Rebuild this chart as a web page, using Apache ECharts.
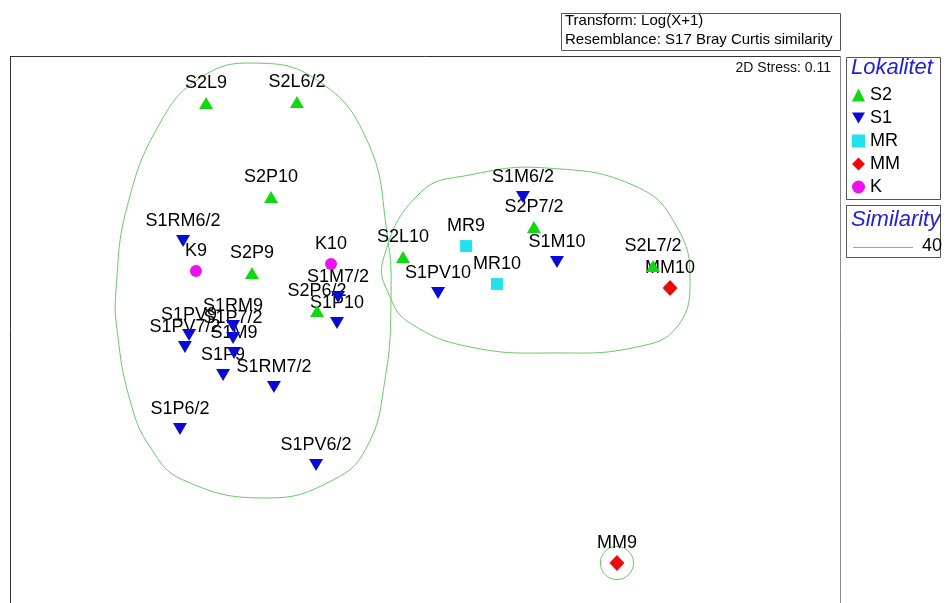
<!DOCTYPE html>
<html><head><meta charset="utf-8">
<script src="https://cdn.jsdelivr.net/npm/echarts@6/dist/echarts.min.js"></script>
<style>html,body{margin:0;padding:0;background:#fff}#c{width:946px;height:603px}</style>
</head><body><div id="c"></div>
<script>
// ---- data (NMDS coordinates) ----
const groups = ['S2', 'S1', 'MR', 'MM', 'K'];

const s2Names = ['S2L9', 'S2L6/2', 'S2P10', 'S2P9', 'S2P6/2', 'S2L10', 'S2P7/2', 'S2L7/2'];
const s2X = [-1.055, -0.617, -0.742, -0.834, -0.520, -0.106, 0.525, 1.099];
const s2Y = [1.073, 1.078, 0.620, 0.254, 0.071, 0.331, 0.476, 0.288];

const s1Names = ['S1RM6/2', 'S1M6/2', 'S1M10', 'S1PV10', 'S1M7/2', 'S1P10', 'S1PV9', 'S1PV7/2',
  'S1RM9', 'S1P7/2', 'S1M9', 'S1P9', 'S1RM7/2', 'S1P6/2', 'S1PV6/2'];
const s1X = [-1.166, 0.472, 0.636, 0.063, -0.419, -0.424, -1.137, -1.157,
  -0.925, -0.925, -0.920, -0.973, -0.728, -1.181, -0.525];
const s1Y = [0.408, 0.620, 0.307, 0.158, 0.139, 0.013, -0.045, -0.102,
  -0.001, -0.059, -0.131, -0.237, -0.295, -0.498, -0.671];

const mrNames = ['MR9', 'MR10'];
const mrX = [0.198, 0.347];
const mrY = [0.384, 0.201];

const mmNames = ['MM10', 'MM9'];
const mmX = [1.181, 0.925];
const mmY = [0.182, -1.143];

const kNames = ['K9', 'K10'];
const kX = [-1.104, -0.453];
const kY = [0.264, 0.298];

// similarity 40 contours (traced outline points)
const contourLeft = [[-0.829, 1.266], [-0.520, 1.184], [-0.280, 0.895], [-0.183, 0.447], [-0.164, 0.124],
  [-0.193, -0.261], [-0.280, -0.584], [-0.443, -0.743], [-0.761, -0.830], [-1.166, -0.743],
  [-1.325, -0.584], [-1.422, -0.358], [-1.484, -0.020], [-1.489, 0.172], [-1.436, 0.572],
  [-1.277, 0.977], [-1.084, 1.194]];
const contourRight = [[0.588, 0.760], [1.022, 0.669], [1.214, 0.476], [1.277, 0.220], [1.214, -0.006],
  [1.022, -0.102], [0.636, -0.131], [0.217, -0.102], [-0.072, 0.013], [-0.169, 0.139],
  [-0.202, 0.317], [-0.024, 0.640], [0.217, 0.727]];
const contourMM9Center = [0.925, -1.143];
const contourMM9Radius = 0.08;
const similarityLevel = '40';
const stressText = '2D Stress: 0.11';
const headerLines = ['Transform: Log(X+1)', 'Resemblance: S17 Bray Curtis similarity'];
const legendTitle = 'Lokalitet';
const similarityTitle = 'Similarity';

// ---- chart ----
const FONT = '"Liberation Sans", Arial, sans-serif';
const downTri = 'path://M0,0L14,0L7,12Z';
const colors = {S2: '#12d812', S1: '#0a0ad8', MR: '#22e2ec', MM: '#ee0a0a', K: '#ee10ee'};
const symbols = {S2: 'triangle', S1: downTri, MR: 'rect', MM: 'diamond', K: 'circle'};
const sizes = {S2: [14, 12], S1: [14, 12], MR: 12, MM: [15, 16], K: 12};
const sets = {
  S2: [s2Names, s2X, s2Y], S1: [s1Names, s1X, s1Y], MR: [mrNames, mrX, mrY],
  MM: [mmNames, mmX, mmY], K: [kNames, kX, kY]
};

function pts(g) {
  const [n, x, y] = sets[g];
  return n.map((nm, i) => ({name: nm, value: [x[i], y[i]]}));
}

function contour(points) {
  return {
    type: 'custom', coordinateSystem: 'cartesian2d', silent: true, z: 1, clip: false,
    data: [points[0]],
    renderItem: (params, api) => ({
      type: 'polygon',
      shape: {points: points.map(p => api.coord(p)), smooth: 0.45},
      style: {fill: 'none', stroke: '#66cc66', lineWidth: 1}
    })
  };
}

const series = [contour(contourLeft), contour(contourRight), {
  type: 'custom', coordinateSystem: 'cartesian2d', silent: true, z: 1, clip: false,
  data: [contourMM9Center],
  renderItem: (params, api) => {
    const c = api.coord(contourMM9Center);
    return {type: 'circle', shape: {cx: c[0], cy: c[1], r: api.size([contourMM9Radius, 0])[0]},
      style: {fill: 'none', stroke: '#66cc66', lineWidth: 1}};
  }
}];

// labels (drawn below the markers)
let allPts = [];
groups.forEach(g => { allPts = allPts.concat(pts(g)); });
series.push({
  type: 'custom', coordinateSystem: 'cartesian2d', silent: true, z: 2, clip: false,
  data: allPts,
  renderItem: (params, api) => {
    const c = api.coord([api.value(0), api.value(1)]);
    return {type: 'text', x: c[0], y: c[1] - 20,
      style: {text: allPts[params.dataIndex].name, font: '18px ' + FONT, fill: '#000',
        align: 'center', verticalAlign: 'middle'}};
  }
});

groups.forEach(g => {
  series.push({
    type: 'scatter', name: g, z: 3, symbol: symbols[g], symbolSize: sizes[g],
    itemStyle: {color: colors[g], opacity: 1}, data: pts(g), emphasis: {disabled: true}
  });
});

const txt = (x, y, text, font, fill, align) => ({
  type: 'text', x: x, y: y, silent: true, z: 10,
  style: {text: text, font: font, fill: fill, align: align || 'left', verticalAlign: 'middle',
    textAlign: align || 'left', textVerticalAlign: 'middle'}
});
const box = (x, y, w, h) => ({
  type: 'rect', silent: true, z: 9, shape: {x: x + 0.5, y: y + 0.5, width: w, height: h},
  style: {fill: '#fff', stroke: '#555', lineWidth: 1}
});
const ln = (x1, y1, x2, y2, c) => ({
  type: 'line', silent: true, z: 10, shape: {x1: x1, y1: y1, x2: x2, y2: y2},
  style: {stroke: c, lineWidth: 1}
});

const chart = echarts.init(document.getElementById('c'), null, {renderer: 'canvas'});
chart.setOption({
  animation: false,
  backgroundColor: '#fff',
  grid: {left: 10, top: 56, width: 830, height: 547, show: false},
  xAxis: {type: 'value', min: -2, max: 2, show: false},
  yAxis: {type: 'value', min: -1.336, max: 1.3, show: false},
  legend: {
    orient: 'vertical', left: 852, top: 85, padding: 0, itemWidth: 13, itemHeight: 13, itemGap: 3,
    selectedMode: false, z: 11,
    data: [{name: 'S2', icon: 'triangle'}, {name: 'S1', icon: downTri}, {name: 'MR', icon: 'rect'},
      {name: 'MM', icon: 'diamond'}, {name: 'K', icon: 'circle'}],
    textStyle: {fontSize: 18, lineHeight: 20, color: '#000', fontFamily: FONT}
  },
  graphic: [
    ln(10.5, 56, 10.5, 603, '#333'),
    ln(10, 56.5, 841, 56.5, '#333'),
    ln(840.5, 56, 840.5, 603, '#888'),
    box(561, 13, 279, 37),
    txt(565, 21, headerLines[0], '15px ' + FONT, '#000'),
    txt(565, 40, headerLines[1], '15px ' + FONT, '#000'),
    txt(831, 68, stressText, '14px ' + FONT, '#111', 'right'),
    box(846, 57, 94, 142),
    txt(851, 68, legendTitle, 'italic 22px ' + FONT, '#2020dd'),
    box(846, 205, 94, 52),
    txt(851, 220, similarityTitle, 'italic 22px ' + FONT, '#2020dd'),
    ln(853, 247.5, 913, 247.5, '#66cc66'),
    txt(922, 246, similarityLevel, '18px ' + FONT, '#000')
  ],
  series: series
});
</script>
</body></html>
